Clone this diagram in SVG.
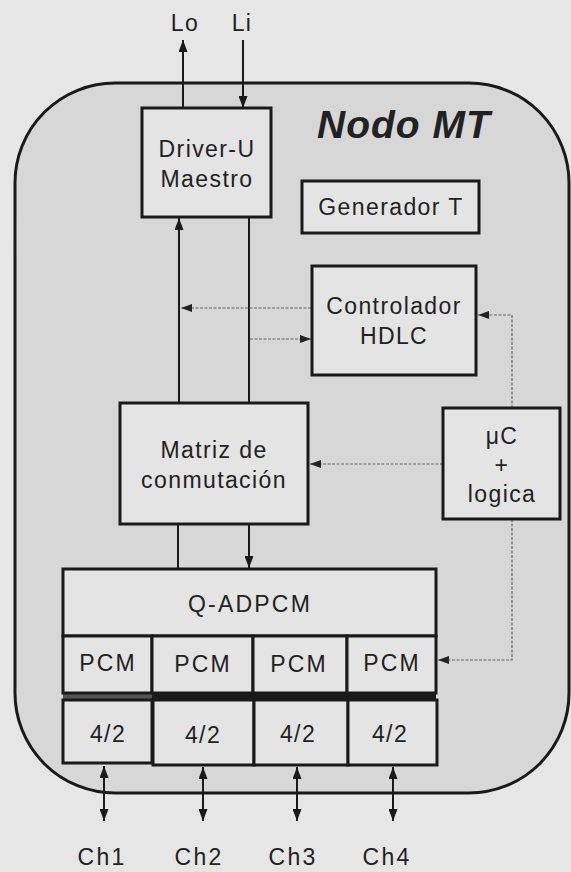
<svg xmlns="http://www.w3.org/2000/svg" width="571" height="872" viewBox="0 0 571 872">
<style>
text{font-family:"Liberation Sans",Arial,sans-serif;font-size:23px;fill:#222;text-anchor:middle;letter-spacing:1.4px}
.box{fill:#e4e4e4;stroke:#1a1a1a;stroke-width:3}
.ln{stroke:#1a1a1a;stroke-width:2;fill:none}
.dot{stroke:#666;stroke-width:1.2;fill:none;stroke-dasharray:3 1.5}
.wide{letter-spacing:2.2px}
</style>
<defs>
<marker id="ah" viewBox="0 0 12 9" refX="12" refY="4.5" markerWidth="12" markerHeight="9" markerUnits="userSpaceOnUse" orient="auto-start-reverse"><path d="M0,0 L12,4.5 L0,9 z" fill="#1a1a1a"/></marker>
<marker id="ahs" viewBox="0 0 11 8" refX="11" refY="4" markerWidth="11" markerHeight="8" markerUnits="userSpaceOnUse" orient="auto"><path d="M0,0 L11,4 L0,8 z" fill="#222"/></marker>
</defs>
<rect width="571" height="872" fill="#e6e6e6"/>
<g id="nodo-mt">
<rect x="15" y="83" width="554" height="710" rx="100" ry="100" fill="#d7d7d7" stroke="#1a1a1a" stroke-width="3"/>
<text x="317" y="138" style="font-size:39px;font-weight:bold;font-style:italic;text-anchor:start;letter-spacing:1px">Nodo MT</text>
</g>
<g id="connectors">
<line class="ln" x1="183" y1="108" x2="183" y2="40" marker-end="url(#ah)"/>
<line class="ln" x1="243" y1="40" x2="243" y2="108" marker-end="url(#ah)"/>
<line class="ln" x1="179" y1="403" x2="179" y2="218" marker-end="url(#ah)"/>
<line class="ln" x1="249" y1="217" x2="249" y2="403"/>
<line class="ln" x1="178" y1="524" x2="178" y2="569"/>
<line class="ln" x1="249" y1="524" x2="249" y2="568" marker-end="url(#ah)"/>
<path class="dot" d="M311,308 H181" marker-end="url(#ahs)"/>
<path class="dot" d="M250,339 H311" marker-end="url(#ahs)"/>
<path class="dot" d="M512,408 V315 H478" marker-end="url(#ahs)"/>
<path class="dot" d="M443,464 H310" marker-end="url(#ahs)"/>
<path class="dot" d="M512,519 V660 H438" marker-end="url(#ahs)"/>
<line class="ln" x1="104" y1="766" x2="104" y2="821" marker-start="url(#ah)" marker-end="url(#ah)"/>
<line class="ln" x1="203" y1="767" x2="203" y2="821" marker-start="url(#ah)" marker-end="url(#ah)"/>
<line class="ln" x1="297" y1="767" x2="297" y2="821" marker-start="url(#ah)" marker-end="url(#ah)"/>
<line class="ln" x1="393" y1="767" x2="393" y2="821" marker-start="url(#ah)" marker-end="url(#ah)"/>
</g>
<g id="labels">
<text x="185" y="31">Lo</text>
<text x="242" y="31">Li</text>
<text class="wide" x="102" y="865">Ch1</text>
<text class="wide" x="199" y="865">Ch2</text>
<text class="wide" x="293" y="865">Ch3</text>
<text class="wide" x="387" y="865">Ch4</text>
</g>
<g id="driver-u">
<rect class="box" x="142" y="108" width="129" height="109"/>
<text x="207" y="157">Driver-U</text>
<text x="207" y="187">Maestro</text>
</g>
<g id="generador-t">
<rect class="box" x="302" y="181" width="177" height="52"/>
<text x="391" y="215">Generador T</text>
</g>
<g id="controlador-hdlc">
<rect class="box" x="312" y="266" width="164" height="109"/>
<text x="394" y="314">Controlador</text>
<text x="394" y="344">HDLC</text>
</g>
<g id="matriz">
<rect class="box" x="120" y="403" width="188" height="121"/>
<text x="214" y="458">Matriz de</text>
<text x="214" y="488">conmutación</text>
</g>
<g id="uc-logica">
<rect class="box" x="443" y="408" width="117" height="111"/>
<text x="502" y="444">μC</text>
<text x="502" y="473">+</text>
<text x="502" y="502">logica</text>
</g>
<g id="q-adpcm">
<rect class="box" x="63" y="569" width="373" height="67"/>
<text class="wide" x="250" y="612">Q-ADPCM</text>
</g>
<g id="pcm">
<rect x="152" y="693" width="284" height="7" fill="#1a1a1a"/>
<rect x="63" y="693" width="89" height="7" fill="#555"/>
<rect class="box" x="63" y="636" width="89" height="57"/>
<rect class="box" x="152" y="636" width="101" height="57"/>
<rect class="box" x="253" y="636" width="94" height="57"/>
<rect class="box" x="347" y="636" width="89" height="57"/>
<text class="wide" x="108" y="671">PCM</text>
<text class="wide" x="203" y="672">PCM</text>
<text class="wide" x="299" y="672">PCM</text>
<text class="wide" x="392" y="671">PCM</text>
</g>
<g id="hybrid">
<rect class="box" x="63" y="700" width="89" height="63"/>
<rect class="box" x="153" y="700" width="101" height="65"/>
<rect class="box" x="254" y="700" width="94" height="65"/>
<rect class="box" x="348" y="700" width="89" height="65"/>
<text x="108" y="742">4/2</text>
<text x="203" y="743">4/2</text>
<text x="298" y="742">4/2</text>
<text x="390" y="742">4/2</text>
</g>
</svg>
